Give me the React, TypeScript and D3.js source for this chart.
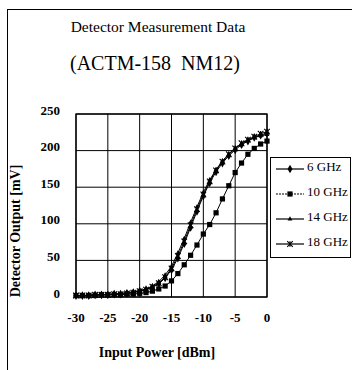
import * as d3 from 'd3';

const inputPower = [
  -30, -29, -28, -27, -26, -25, -24, -23, -22, -21, -20, -19, -18, -17, -16, -15,
  -14, -13, -12, -11, -10, -9, -8, -7, -6, -5, -4, -3, -2, -1, 0,
];

const ghz6 = [
  2, 2, 2, 3, 3, 3, 4, 4, 5, 6, 8, 10, 13, 18, 26, 37,
  53, 73, 95, 117, 138, 156, 171, 183, 193, 201, 208, 213, 218, 221, 224,
];
const ghz10 = [
  2, 2, 2, 2, 3, 3, 3, 3, 4, 4, 5, 6, 8, 11, 15, 22,
  32, 44, 57, 71, 86, 99, 115, 134, 152, 170, 183, 195, 203, 209, 213,
];
const ghz14 = [
  2, 2, 3, 3, 3, 4, 4, 5, 6, 7, 9, 11, 15, 21, 30, 42,
  60, 80, 102, 123, 143, 160, 174, 186, 195, 203, 209, 214, 218, 220, 222,
];
const ghz18 = [
  2, 2, 2, 3, 3, 3, 4, 4, 5, 6, 8, 10, 14, 19, 27, 39,
  56, 76, 98, 120, 140, 158, 173, 185, 195, 203, 210, 215, 219, 223, 226,
];

const seriesNames = ['6 GHz', '10 GHz', '14 GHz', '18 GHz'];
const seriesValues = [ghz6, ghz10, ghz14, ghz18];
const xTicks = [-30, -25, -20, -15, -10, -5, 0];
const yTicks = [0, 50, 100, 150, 200, 250];

const FONT = "'Liberation Serif', 'Times New Roman', Times, 'DejaVu Serif', serif";

function Marker({ kind, x, y }: { kind: number; x: number; y: number }) {
  if (kind === 0) {
    const d = d3.symbol(d3.symbolDiamond, 22)() ?? '';
    return <path d={d} transform={`translate(${x},${y})`} fill="#000" />;
  }
  if (kind === 1) {
    return <rect x={x - 2.6} y={y - 2.6} width={5.2} height={5.2} fill="#000" />;
  }
  if (kind === 2) {
    const d = d3.symbol(d3.symbolTriangle, 10)() ?? '';
    return <path d={d} transform={`translate(${x},${y})`} fill="#000" />;
  }
  const r = 2.8;
  return (
    <path
      d={`M${x - r},${y - r}L${x + r},${y + r}M${x - r},${y + r}L${x + r},${y - r}M${x},${y - r}L${x},${y + r}`}
      stroke="#000"
      strokeWidth={1.1}
      fill="none"
    />
  );
}

export default function App() {
  const width = 352;
  const height = 370;
  const left = 76;
  const right = 267;
  const top = 114;
  const bottom = 297;

  const x = d3.scaleLinear().domain([-30, 0]).range([left, right]);
  const y = d3.scaleLinear().domain([0, 250]).range([bottom, top]);

  const line = d3
    .line<number>()
    .x((_, i) => x(inputPower[i]))
    .y((d) => y(d));

  const txt = { fontFamily: FONT };

  return (
    <svg
      width={width}
      height={height}
      style={{ position: 'absolute', left: 0, top: 0, background: '#fff' }}
    >
      <rect width={width} height={height} fill="#fff" />
      {/* scanned page frame */}
      <line x1={7} x2={352} y1={9.5} y2={9.5} stroke="#000" strokeWidth={1} />
      <line x1={7.5} x2={7.5} y1={9} y2={370} stroke="#000" strokeWidth={1} />

      <text x={158} y={32} textAnchor="middle" fontSize={15.5} style={txt}>
        Detector Measurement Data
      </text>
      <text x={155} y={70} textAnchor="middle" fontSize={20} style={{ ...txt, whiteSpace: 'pre' }}>
        {'(ACTM-158  NM12)'}
      </text>

      {/* grid */}
      {xTicks.map((t) => (
        <line key={`gx${t}`} x1={x(t)} x2={x(t)} y1={top} y2={bottom} stroke="#000" strokeWidth={1} />
      ))}
      {yTicks.map((t) => (
        <line key={`gy${t}`} x1={left} x2={right} y1={y(t)} y2={y(t)} stroke="#000" strokeWidth={1} />
      ))}
      <rect x={left} y={top} width={right - left} height={bottom - top} fill="none" stroke="#000" strokeWidth={1.3} />

      {/* tick labels */}
      {yTicks.map((t) => (
        <text key={`ly${t}`} x={60} y={y(t) + 0.5} textAnchor="end" fontSize={13} fontWeight="bold" style={txt}>
          {t}
        </text>
      ))}
      {xTicks.map((t) => (
        <text key={`lx${t}`} x={x(t)} y={322} textAnchor="middle" fontSize={13} fontWeight="bold" style={txt}>
          {t}
        </text>
      ))}

      <text x={157} y={357} textAnchor="middle" fontSize={14} fontWeight="bold" style={txt}>
        Input Power [dBm]
      </text>
      <text
        transform={`translate(20,231) rotate(-90)`}
        textAnchor="middle"
        fontSize={14}
        fontWeight="bold"
        style={txt}
      >
        Detector Output [mV]
      </text>

      {/* series */}
      {seriesValues.map((vals, si) => (
        <g key={`s${si}`}>
          <path d={line(vals) ?? ''} fill="none" stroke="#000" strokeWidth={1} />
          {vals.map((v, i) => (
            <Marker key={i} kind={si} x={x(inputPower[i])} y={y(v)} />
          ))}
        </g>
      ))}

      {/* legend */}
      <rect x={270.5} y={157.5} width={80} height={100} fill="#fff" stroke="#000" strokeWidth={1} />
      {seriesNames.map((name, i) => {
        const cy = 167 + i * 25;
        return (
          <g key={name}>
            <line
              x1={276}
              x2={304}
              y1={cy + 2}
              y2={cy + 2}
              stroke="#000"
              strokeWidth={1.2}
              strokeDasharray={i === 1 ? '2,1' : undefined}
            />
            <Marker kind={i} x={290} y={cy + 2} />
            <text x={307} y={cy + 4} fontSize={13} style={txt}>
              {name}
            </text>
          </g>
        );
      })}
    </svg>
  );
}
